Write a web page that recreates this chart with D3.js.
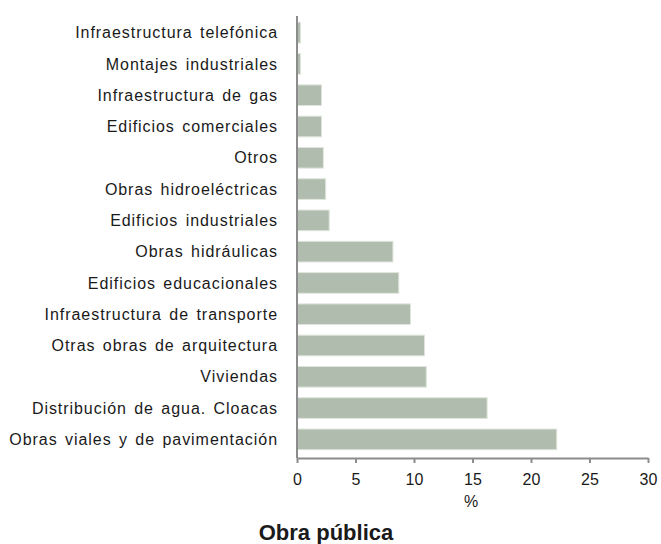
<!DOCTYPE html>
<html><head><meta charset="utf-8">
<script src="https://cdn.jsdelivr.net/npm/d3@7"></script>
<style>body{margin:0;background:#fff;} text{font-family:"Liberation Sans",Arial,sans-serif;fill:#1a1a1a;}</style>
</head><body><svg id="c" width="661" height="544"></svg>
<script>
const categories = ["Infraestructura telefónica","Montajes industriales","Infraestructura de gas","Edificios comerciales","Otros","Obras hidroeléctricas","Edificios industriales","Obras hidráulicas","Edificios educacionales","Infraestructura de transporte","Otras obras de arquitectura","Viviendas","Distribución de agua. Cloacas","Obras viales y de pavimentación"];
const values = [0.3,0.3,2.1,2.1,2.25,2.45,2.75,8.2,8.7,9.7,10.9,11.05,16.25,22.2];
const xTicks = [0,5,10,15,20,25,30];
const xLabel = "%";
const title = "Obra pública";

const svg = d3.select("#c");
const x = d3.scaleLinear().domain([0,30]).range([297,648]);
const y = d3.scaleBand().domain(categories).range([17,455]).paddingInner(0.34).paddingOuter(0.17);

svg.selectAll("rect.bar").data(values).enter().append("rect")
  .attr("class","bar")
  .attr("x", x(0))
  .attr("y", (d,i)=>y(categories[i]))
  .attr("width", d=>x(d)-x(0))
  .attr("height", y.bandwidth())
  .attr("fill","#b0bcad")
  .attr("stroke","#dfe5dc").attr("stroke-width",1);

// y labels
svg.selectAll("text.cat").data(categories).enter().append("text")
  .attr("class","cat")
  .attr("x",278).attr("y",d=>y(d)+y.bandwidth()/2)
  .attr("dy","0.35em").attr("text-anchor","end")
  .attr("font-size",16).attr("letter-spacing","0.95px").attr("word-spacing","2px").text(d=>d);

// y axis line
svg.append("line").attr("x1",x(0)).attr("x2",x(0)).attr("y1",16).attr("y2",458)
  .attr("stroke","#8c8c8c").attr("stroke-width",2);

// x axis
const xa = svg.append("g").attr("transform","translate(0,458)")
  .call(d3.axisBottom(x).tickValues(xTicks).tickSize(5).tickSizeOuter(0));
xa.select(".domain").attr("stroke","#8c8c8c").attr("stroke-width",2);
xa.selectAll(".tick line").attr("stroke","#8c8c8c").attr("stroke-width",2);
xa.selectAll(".tick text").attr("font-size",16).attr("y",27).attr("dy",0)
  .attr("font-family","Liberation Sans,Arial,sans-serif").attr("fill","#1a1a1a");

svg.append("text").attr("x",471).attr("y",507).attr("text-anchor","middle").attr("font-size",16).text(xLabel);
svg.append("text").attr("x",326).attr("y",540).attr("text-anchor","middle").attr("font-size",22).attr("font-weight","bold").text(title);
</script></body></html>
